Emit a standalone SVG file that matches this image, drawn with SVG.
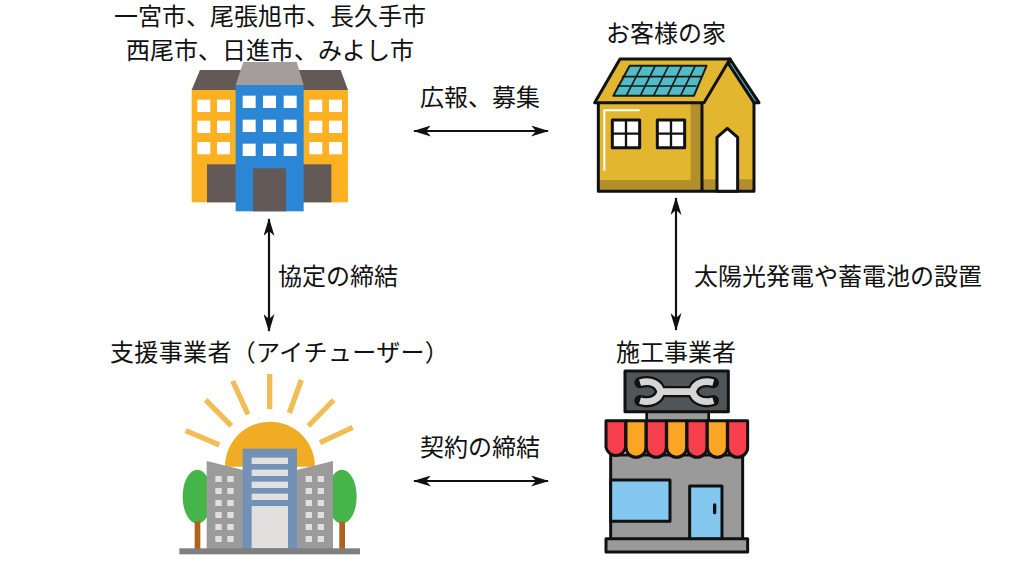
<svg xmlns="http://www.w3.org/2000/svg" width="1024" height="576" viewBox="0 0 1024 576">
<style>
.t{font-family:"Liberation Sans","Noto Sans CJK JP",sans-serif;font-size:24px;fill:#111}
.m{text-anchor:middle}
.c{stroke:#111;stroke-width:2.2;fill:none;marker-start:url(#a);marker-end:url(#a)}
.w{fill:#fff}
.k{stroke:#111;stroke-width:9;stroke-linejoin:round}
.g{fill:#e2e0df}
.ray{stroke:#f1bd57;stroke-width:16;fill:none}
</style>
<defs>
<marker id="a" viewBox="0 0 18 11" refX="17" refY="5.5" markerUnits="userSpaceOnUse" markerWidth="18" markerHeight="11" orient="auto-start-reverse"><path d="M0 0L18 5.5L0 11L5 5.5Z" fill="#111"/></marker>
<g id="w1"><rect width="39" height="37" class="w"/></g>
</defs>
<rect width="1024" height="576" fill="#fff"/>
<g id="connectors">
<line class="c" x1="414" y1="131" x2="548" y2="131"/>
<line class="c" x1="269" y1="219" x2="269" y2="331"/>
<line class="c" x1="676" y1="198" x2="676" y2="330"/>
<line class="c" x1="414" y1="481" x2="548" y2="481"/>
</g>
<g id="labels">
<text class="t m" x="270" y="25">一宮市、尾張旭市、長久手市</text>
<text class="t m" x="270" y="59">西尾市、日進市、みよし市</text>
<text class="t m" x="480" y="106">広報、募集</text>
<text class="t" x="278" y="285">協定の締結</text>
<text class="t" x="694" y="285">太陽光発電や蓄電池の設置</text>
<text class="t m" x="480" y="456">契約の締結</text>
</g>
<g id="city-hall">
<g transform="translate(170 50) scale(.3333)">
<path d="M65 120L90 60H512L534 120Z" fill="#635a58"/>
<rect x="65" y="120" width="469" height="337" fill="#fbb122"/>
<rect x="111" y="343" width="373" height="114" fill="#635a58"/>
<path d="M197 105L220 36H380L401 105Z" fill="#a59d9b"/>
<rect x="197" y="105" width="204" height="379" fill="#2c86d6"/>
<rect x="249" y="355" width="99" height="129" fill="#635a58"/>
<use href="#w1" x="82" y="149"/><use href="#w1" x="141" y="149"/><use href="#w1" x="82" y="212"/><use href="#w1" x="141" y="212"/><use href="#w1" x="82" y="276"/><use href="#w1" x="141" y="276"/>
<use href="#w1" x="418" y="149"/><use href="#w1" x="477" y="149"/><use href="#w1" x="418" y="212"/><use href="#w1" x="477" y="212"/><use href="#w1" x="418" y="276"/><use href="#w1" x="477" y="276"/>
<use href="#w1" x="218" y="137"/><use href="#w1" x="279" y="137"/><use href="#w1" x="341" y="137"/><use href="#w1" x="218" y="209"/><use href="#w1" x="279" y="209"/><use href="#w1" x="341" y="209"/><use href="#w1" x="218" y="281"/><use href="#w1" x="279" y="281"/><use href="#w1" x="341" y="281"/>
</g>
</g>
<g id="home">
<text class="t m" x="666" y="42">お客様の家</text>
<g transform="translate(580 50) scale(.3333)">
<path d="M368 158L450 30L522 158V424H368Z" fill="#e2b72f"/>
<rect x="55" y="158" width="310" height="266" fill="#e2b72f"/>
<rect x="332" y="158" width="33" height="266" fill="#b28f2a"/>
<rect x="55" y="390" width="310" height="34" fill="#b28f2a"/>
<rect x="368" y="388" width="154" height="36" fill="#b28f2a"/>
<path d="M179 181H73V362" fill="none" stroke="#fff" stroke-width="6"/>
<path d="M44 158L120 27H450L372 158Z" fill="#e2b72f" class="k"/>
<path d="M450 27L537 158H522L446 42Z" fill="#4fbcc6" class="k"/>
<path d="M149 47H380L342 137H100Z" fill="#4fbcc6" stroke="#1a1a1a" stroke-width="6" stroke-linejoin="round"/>
<path d="M126 80H364M112 108H350M186 47L139 137M226 47L181 137M266 47L221 137M306 47L262 137M346 47L302 137" stroke="#1a1a1a" stroke-width="5" fill="none"/>
<path d="M55 158V424H522V158M366 158V424" fill="none" class="k"/>
<g fill="#fff" class="k"><rect x="97" y="210" width="82" height="83"/><rect x="232" y="210" width="82" height="83"/></g>
<path d="M138 210V293M97 251H179M273 210V293M232 251H314" stroke="#111" stroke-width="7"/>
<path d="M411 424V262L442 235L473 262V424Z" fill="#fff" class="k"/>
</g>
</g>
<g id="support-company">
<text class="t" x="110" y="361" letter-spacing=".35">支援事業者（アイチューザー）</text>
<g transform="translate(170 370) scale(.3333)">
<path d="M165 290A135 135 0 0 1 435 290Z" fill="#f0ac25"/>
<g class="ray">
<path d="M299 12V118M394 30L358 129M491 90L415 168M548 172L450 218M188 33L234 133M107 90L184 168M47 182L148 225"/>
</g>
<ellipse cx="82" cy="380" rx="44" ry="81" fill="#45b549"/>
<ellipse cx="516" cy="380" rx="44" ry="81" fill="#45b549"/>
<rect x="74" y="455" width="17" height="85" fill="#ad6220"/>
<rect x="508" y="455" width="17" height="85" fill="#ad6220"/>
<path d="M110 273L220 300V540H110ZM489 273L380 300V540H489Z" fill="#9b9b9b"/>
<rect x="218" y="236" width="163" height="304" fill="#7391b7"/>
<g class="g">
<rect x="245" y="263" width="109" height="19"/><rect x="245" y="299" width="109" height="19"/><rect x="245" y="335" width="109" height="19"/><rect x="245" y="371" width="109" height="19"/><rect x="245" y="408" width="109" height="127"/>
<path d="M136 318h19v18h-19zM172 318h19v18h-19zM136 354h19v18h-19zM172 354h19v18h-19zM136 390h19v18h-19zM172 390h19v18h-19zM136 426h19v18h-19zM172 426h19v18h-19zM136 462h19v18h-19zM172 462h19v18h-19zM136 498h19v18h-19zM172 498h19v18h-19z"/>
<path d="M407 318h19v18h-19zM443 318h19v18h-19zM407 354h19v18h-19zM443 354h19v18h-19zM407 390h19v18h-19zM443 390h19v18h-19zM407 426h19v18h-19zM443 426h19v18h-19zM407 462h19v18h-19zM443 462h19v18h-19zM407 498h19v18h-19zM443 498h19v18h-19z"/>
</g>
<rect x="28" y="535" width="542" height="18" fill="#7f7f7f"/>
</g>
</g>
<g id="contractor">
<text class="t m" x="676" y="361">施工事業者</text>
<g transform="translate(590 360) scale(.3333)">
<rect x="170" y="155" width="186" height="30" fill="#9a9a9a" stroke="#111" stroke-width="8"/>
<rect x="105" y="33" width="310" height="122" fill="#4f5559" class="k"/>
<path d="M150 68C185 58 208 74 212 95C208 116 185 132 150 122M212 95H308M370 68C335 58 312 74 308 95C312 116 335 132 370 122" fill="none" stroke="#111" stroke-width="34" stroke-linecap="round"/>
<path d="M150 68C185 58 208 74 212 95C208 116 185 132 150 122M205 95H315M370 68C335 58 312 74 308 95C312 116 335 132 370 122" fill="none" stroke="#d5d5d5" stroke-width="20"/>
<rect x="62" y="285" width="396" height="255" fill="#9a9a9a" class="k"/>
<rect x="62" y="360" width="178" height="124" fill="#85c8ef" class="k"/>
<rect x="299" y="378" width="97" height="160" fill="#85c8ef" class="k"/>
<rect x="369" y="430" width="10" height="33" rx="5" fill="#111"/>
<rect x="48" y="536" width="425" height="40" fill="#9a9a9a" class="k"/>
<g class="k">
<path d="M48 182H107V262A30 30 0 0 1 48 262Z" fill="#f73f4e"/>
<path d="M108 182H168V262A30 30 0 0 1 108 262Z" fill="#fba524"/>
<path d="M169 182H229V262A30 30 0 0 1 169 262Z" fill="#f73f4e"/>
<path d="M230 182H290V262A30 30 0 0 1 230 262Z" fill="#fba524"/>
<path d="M291 182H351V262A30 30 0 0 1 291 262Z" fill="#f73f4e"/>
<path d="M352 182H412V262A30 30 0 0 1 352 262Z" fill="#fba524"/>
<path d="M413 182H473V262A30 30 0 0 1 413 262Z" fill="#f73f4e"/>
</g>
</g>
</g>
</svg>
